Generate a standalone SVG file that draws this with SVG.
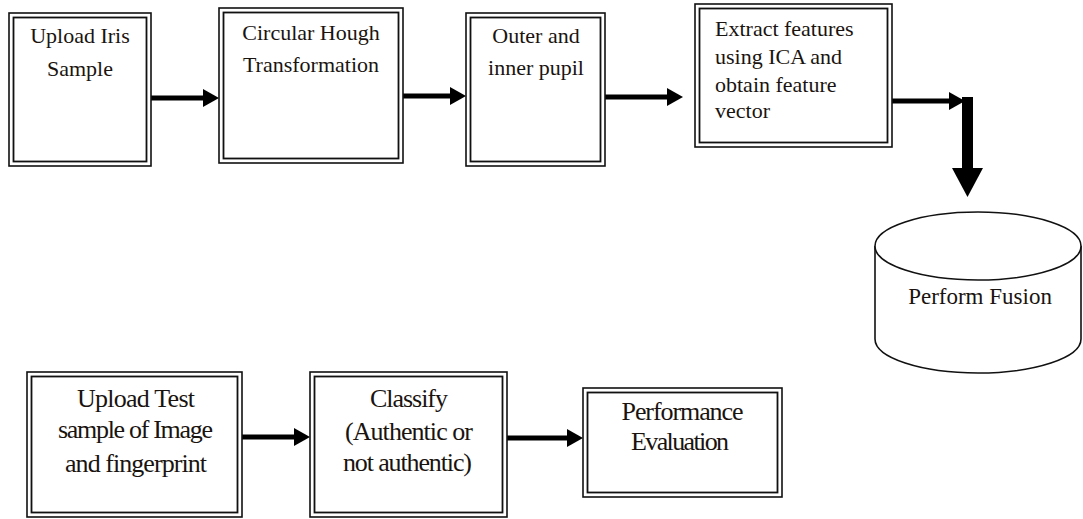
<svg xmlns="http://www.w3.org/2000/svg" width="1083" height="519" viewBox="0 0 1083 519">
<style>
.o{fill:none;stroke:#111;stroke-width:1.6}
.i{fill:#fff;stroke:#111;stroke-width:1.8}
.t{font-family:'Liberation Serif','DejaVu Serif',serif;font-size:22px;fill:#1a1410}
.b{font-size:26px}
.c{text-anchor:middle}
.a{stroke:#000;stroke-width:5;fill:none}
</style>
<defs>
<marker id="h" markerUnits="userSpaceOnUse" markerWidth="16" markerHeight="18" refX="4" refY="9" orient="auto">
<path d="M0,0 L16,9 L0,18 z" fill="#000"/>
</marker>
</defs>
<rect width="1083" height="519" fill="#fff"/>
<g id="connectors">
<line class="a" x1="151" y1="98" x2="207" y2="98" marker-end="url(#h)"/>
<line class="a" x1="403" y1="96" x2="454" y2="96" marker-end="url(#h)"/>
<line class="a" x1="605" y1="97" x2="671" y2="97" marker-end="url(#h)"/>
<line class="a" x1="892" y1="101" x2="953" y2="101" marker-end="url(#h)"/>
<rect x="962" y="97" width="11" height="73" fill="#000"/>
<polygon points="952,168 983,168 967.5,197" fill="#000"/>
<line class="a" x1="242" y1="437" x2="298" y2="437" marker-end="url(#h)"/>
<line class="a" x1="507" y1="438" x2="571" y2="438" marker-end="url(#h)"/>
</g>
<g id="n1">
<rect class="o" x="9" y="13" width="142" height="153"/>
<rect class="i" x="13.5" y="17.5" width="133" height="144"/>
<text class="t c" x="80" y="43">Upload Iris</text>
<text class="t c" x="80" y="76">Sample</text>
</g>
<g id="n2">
<rect class="o" x="219" y="8" width="184" height="155"/>
<rect class="i" x="223.5" y="12.5" width="175" height="146"/>
<text class="t c" x="311" y="40">Circular Hough</text>
<text class="t c" x="311" y="72">Transformation</text>
</g>
<g id="n3">
<rect class="o" x="466" y="13" width="139" height="153"/>
<rect class="i" x="470.5" y="17.5" width="130" height="144"/>
<text class="t c" x="536" y="43">Outer and</text>
<text class="t c" x="536" y="75">inner pupil</text>
</g>
<g id="n4">
<rect class="o" x="695" y="4" width="197" height="143"/>
<rect class="i" x="699.5" y="8.5" width="188" height="134"/>
<text class="t" x="715" y="36">Extract features</text>
<text class="t" x="715" y="64">using ICA and</text>
<text class="t" x="715" y="92">obtain feature</text>
<text class="t" x="715" y="118">vector</text>
</g>
<g id="n5">
<path d="M875,246 V339 A103,34 0 0 0 1081,339 V246" fill="#fff" stroke="#111" stroke-width="1.6"/>
<ellipse cx="978" cy="246" rx="103" ry="34" fill="#fff" stroke="#111" stroke-width="1.6"/>
<text class="t c" x="980" y="304" style="font-size:23px">Perform Fusion</text>
</g>
<g id="n6">
<rect class="o" x="27" y="372" width="215" height="145"/>
<rect class="i" x="31.5" y="376.5" width="206" height="136"/>
<text class="t b c" x="136" y="407" textLength="118">Upload Test</text>
<text class="t b c" x="135.5" y="438" textLength="155">sample of Image</text>
<text class="t b c" x="136" y="472" textLength="142">and fingerprint</text>
</g>
<g id="n7">
<rect class="o" x="310" y="372" width="197" height="145"/>
<rect class="i" x="314.5" y="376.5" width="188" height="136"/>
<text class="t b c" x="409" y="407" textLength="78">Classify</text>
<text class="t b c" x="409" y="440" textLength="128">(Authentic or</text>
<text class="t b c" x="407.5" y="471" textLength="129">not authentic)</text>
</g>
<g id="n8">
<rect class="o" x="583" y="388" width="199" height="109"/>
<rect class="i" x="587.5" y="392.5" width="190" height="100"/>
<text class="t b c" x="682.5" y="420" textLength="122">Performance</text>
<text class="t b c" x="680" y="450" textLength="98">Evaluation</text>
</g>
</svg>
